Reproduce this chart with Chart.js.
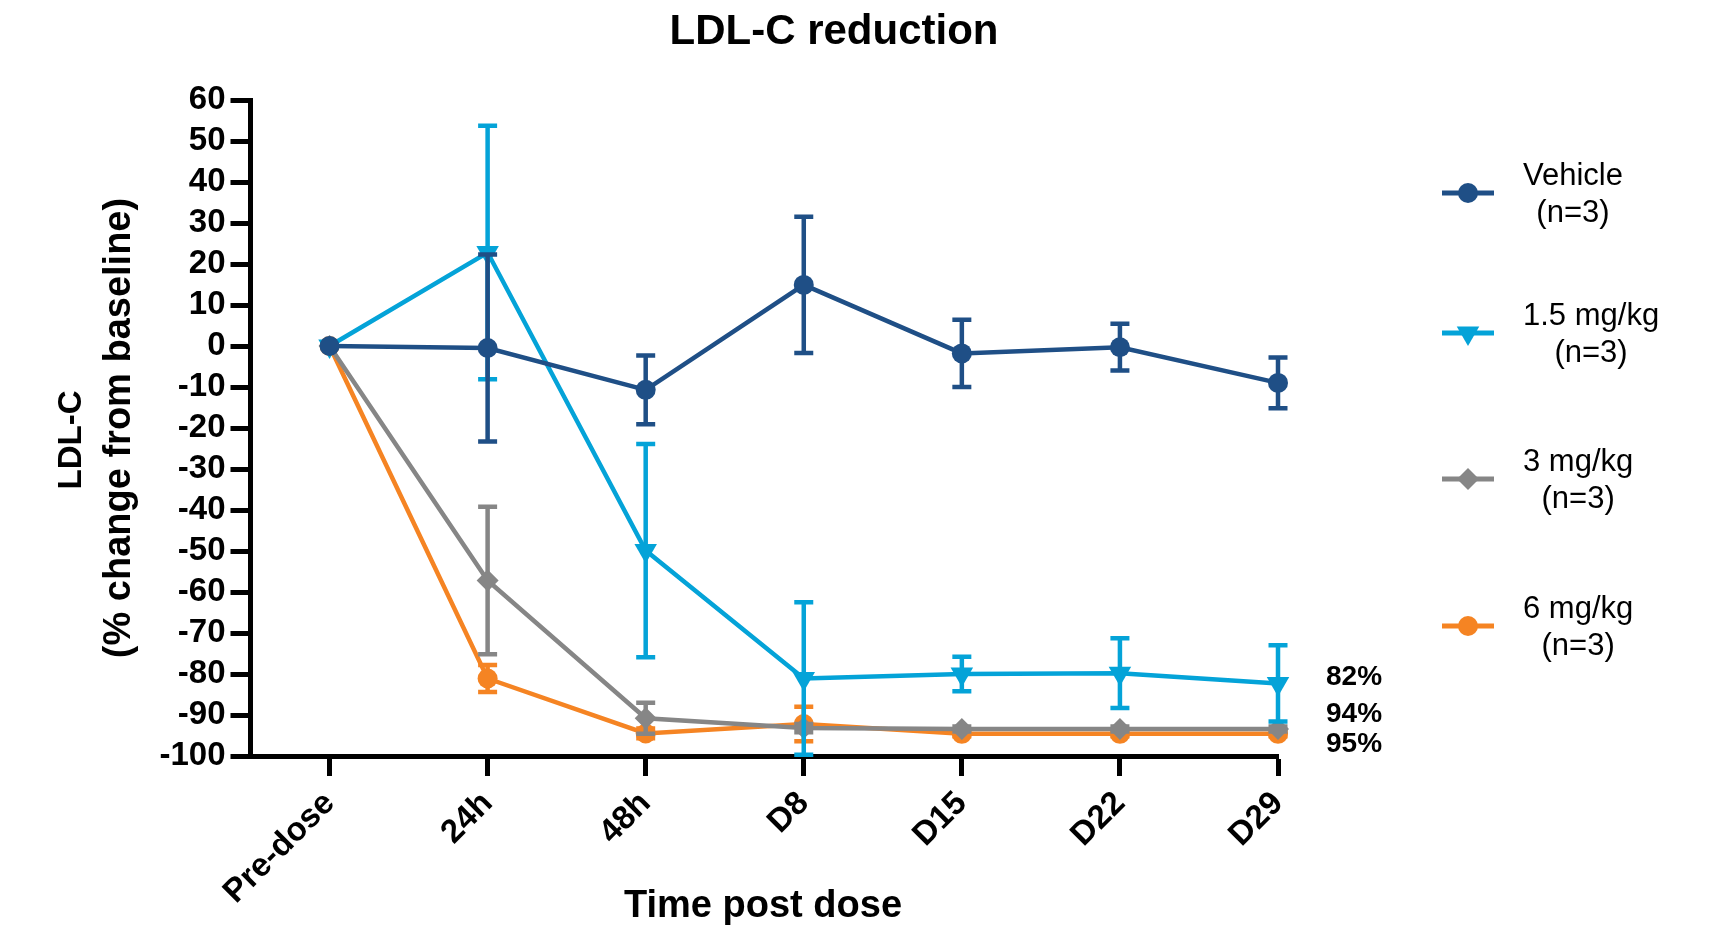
<!DOCTYPE html>
<html lang="en">
<head>
  <meta charset="UTF-8" />
  <title>LDL-C reduction</title>
  <script src="https://cdn.jsdelivr.net/npm/chart.js@4.4.1/dist/chart.umd.min.js"></script>
  <style>
    html, body { margin: 0; padding: 0; background: #fff; }
    #wrap { width: 1714px; height: 927px; }
  </style>
</head>
<body>
  <div id="wrap"><canvas id="ldlChart" width="1714" height="927"></canvas></div>

  <script>
    // time points (x axis)
    const timePoints = ['Pre-dose', '24h', '48h', 'D8', 'D15', 'D22', 'D29'];

    // mean % change from baseline and error (SEM) per group
    const vehicleMean = [0, -0.5, -10.7, 14.9, -1.8, -0.3, -9.0];
    const vehicleErr  = [0, 22.8, 8.4, 16.6, 8.2, 5.7, 6.2];
    const dose15Mean  = [0, 22.8, -49.9, -81.1, -80.0, -79.8, -82.3];
    const dose15Err   = [0, 30.9, 26.0, 18.6, 4.2, 8.5, 9.3];
    const dose3Mean   = [0, -57.2, -90.8, -93.2, -93.4, -93.4, -93.4];
    const dose3Err    = [0, 18.0, 3.8, 1.0, 0.6, 0.6, 0.6];
    const dose6Mean   = [0, -81.1, -94.5, -92.2, -94.6, -94.6, -94.6];
    const dose6Err    = [0, 3.3, 1.2, 4.2, 0.6, 0.6, 0.6];

    const groupNames = [['Vehicle', '(n=3)'], ['1.5 mg/kg', '(n=3)'], ['3 mg/kg', '(n=3)'], ['6 mg/kg', '(n=3)']];

    // reduction labels at the last time point
    const endLabels = ['82%', '94%', '95%'];
    const endLabelAt = [-80.7, -89.8, -97.1];

    const FONT = '"Liberation Sans", Arial, Helvetica, sans-serif';

    const toPoints = arr => arr.map((v, i) => ({ x: i, y: v }));

    function makeSet(name, mean, err, color, style, rotation, radius) {
      return {
        label: name.join(' '),
        data: toPoints(mean),
        errors: err,
        borderColor: color,
        backgroundColor: color,
        borderWidth: 4.5,
        pointStyle: style,
        pointRotation: rotation,
        pointRadius: radius,
        pointBorderWidth: 0,
        tension: 0,
        clip: 20
      };
    }

    // error bars, drawn under each dataset's line and markers
    const errorBars = {
      id: 'errorBars',
      beforeDatasetDraw(chart, args) {
        const ds = chart.data.datasets[args.index];
        const xs = chart.scales.x, ys = chart.scales.y;
        const ctx = chart.ctx;
        ctx.save();
        ctx.strokeStyle = ds.borderColor;
        ctx.lineWidth = 4.5;
        ds.errors.forEach((e, i) => {
          if (!e) return;
          const px = xs.getPixelForValue(i);
          const v = ds.data[i].y;
          const top = ys.getPixelForValue(v + e);
          const bot = ys.getPixelForValue(v - e);
          ctx.beginPath();
          ctx.moveTo(px, top); ctx.lineTo(px, bot);
          ctx.moveTo(px - 9.5, top); ctx.lineTo(px + 9.5, top);
          ctx.moveTo(px - 9.5, bot); ctx.lineTo(px + 9.5, bot);
          ctx.stroke();
        });
        ctx.restore();
      }
    };

    // titles, side legend and end labels
    const decorations = {
      id: 'decorations',
      afterDraw(chart) {
        const ctx = chart.ctx;
        const xs = chart.scales.x, ys = chart.scales.y;
        ctx.save();
        ctx.fillStyle = '#000';

        // main title
        ctx.font = 'bold 42px ' + FONT;
        ctx.textAlign = 'center';
        ctx.textBaseline = 'middle';
        ctx.fillText('LDL-C reduction', 834, 32);

        // x axis title
        ctx.font = 'bold 38px ' + FONT;
        ctx.fillText('Time post dose', 763, 907);

        // y axis title (two lines)
        ctx.save();
        ctx.translate(81, 440);
        ctx.rotate(-Math.PI / 2);
        ctx.textBaseline = 'alphabetic';
        ctx.font = 'bold 33px ' + FONT;
        ctx.fillText('LDL-C', 0, 0);
        ctx.restore();
        ctx.save();
        ctx.translate(130, 428);
        ctx.rotate(-Math.PI / 2);
        ctx.textBaseline = 'alphabetic';
        ctx.font = 'bold 38px ' + FONT;
        ctx.fillText('(% change from baseline)', 0, 0);
        ctx.restore();

        // reduction labels
        ctx.font = 'bold 28px ' + FONT;
        ctx.textAlign = 'left';
        const lastX = xs.getPixelForValue(timePoints.length - 1);
        endLabels.forEach((t, i) => {
          ctx.fillText(t, lastX + 48, ys.getPixelForValue(endLabelAt[i]));
        });

        // legend
        const rows = [193, 333, 479, 626];
        chart.data.datasets.forEach((ds, i) => {
          const y = rows[i];
          ctx.strokeStyle = ds.borderColor;
          ctx.fillStyle = ds.backgroundColor;
          ctx.lineWidth = 5;
          ctx.beginPath();
          ctx.moveTo(1442, y); ctx.lineTo(1494, y);
          ctx.stroke();
          Chart.helpers.drawPoint(ctx, {
            pointStyle: ds.pointStyle, rotation: ds.pointRotation,
            radius: ds.pointRadius, borderWidth: 0
          }, 1468, y);

          ctx.fillStyle = '#000';
          ctx.font = '31px ' + FONT;
          ctx.textAlign = 'center';
          ctx.textBaseline = 'alphabetic';
          const w = ctx.measureText(groupNames[i][0]).width;
          const cx = 1523 + w / 2;
          ctx.fillText(groupNames[i][0], cx, y - 8);
          ctx.fillText(groupNames[i][1], cx, y + 29);
        });
        ctx.restore();
      }
    };

    const ctx = document.getElementById('ldlChart').getContext('2d');
    new Chart(ctx, {
      type: 'line',
      data: {
        datasets: [
          makeSet(groupNames[0], vehicleMean, vehicleErr, '#1F4F86', 'circle', 0, 10),
          makeSet(groupNames[1], dose15Mean, dose15Err, '#04A3D8', 'triangle', 180, 13),
          makeSet(groupNames[2], dose3Mean, dose3Err, '#868686', 'rectRot', 0, 11),
          makeSet(groupNames[3], dose6Mean, dose6Err, '#F58423', 'circle', 0, 10)
        ]
      },
      options: {
        responsive: false,
        animation: false,
        devicePixelRatio: 1,
        layout: { padding: { top: 100, right: 436, bottom: 0, left: 0 } },
        plugins: {
          legend: { display: false },
          title: { display: false },
          tooltip: { enabled: false }
        },
        scales: {
          x: {
            type: 'linear',
            min: -0.5,
            max: timePoints.length - 1,
            afterBuildTicks: axis => { axis.ticks = timePoints.map((_, i) => ({ value: i })); },
            afterFit: axis => { axis.height = 927 - 756; },
            border: { display: true, width: 5, color: '#000' },
            grid: { drawOnChartArea: false, tickLength: 20, tickWidth: 5, tickColor: '#000' },
            ticks: {
              autoSkip: false,
              maxRotation: 45,
              minRotation: 45,
              padding: 8,
              color: '#000',
              font: { family: FONT, size: 33, weight: 'bold' },
              callback: v => timePoints[v]
            }
          },
          y: {
            min: -100,
            max: 60,
            afterFit: axis => { axis.width = 250.5; },
            border: { display: true, width: 5, color: '#000' },
            grid: { drawOnChartArea: false, tickLength: 20, tickWidth: 5, tickColor: '#000' },
            ticks: {
              stepSize: 10,
              autoSkip: false,
              padding: 5,
              color: '#000',
              font: { family: FONT, size: 33, weight: 'bold' }
            }
          }
        }
      },
      plugins: [errorBars, decorations]
    });
  </script>
</body>
</html>
